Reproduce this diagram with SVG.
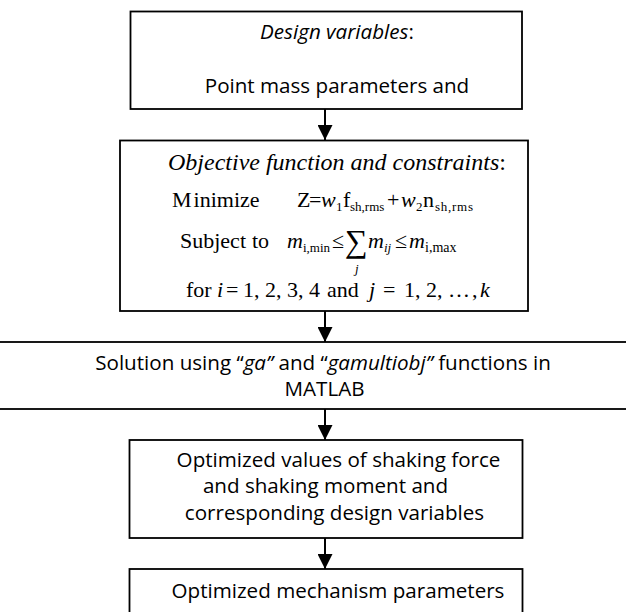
<svg xmlns="http://www.w3.org/2000/svg" width="626" height="612" viewBox="0 0 626 612">
<style>
.box{fill:#fff;stroke:#000;stroke-width:1.8}
.sans{font-family:"Open Sans","Noto Sans","Liberation Sans",sans-serif;font-size:20.6px;fill:#000}
.serif{font-family:"Liberation Serif","Times New Roman",serif;font-size:22px;fill:#000}
.it{font-style:italic}
.sub{font-size:13px}
.conn{stroke:#000;stroke-width:2;fill:none}
</style>
<defs>
<marker id="ah" markerUnits="userSpaceOnUse" markerWidth="15" markerHeight="15" refX="15" refY="7.5" orient="auto">
<path d="M0,0 L15,7.5 L0,15 Z" fill="#000"/>
</marker>
</defs>
<rect x="0" y="0" width="626" height="612" fill="#fff"/>

<g id="node-design-variables">
<rect class="box" x="130.5" y="11.5" width="391.5" height="97.5"/>
<text class="sans" x="337" y="39" text-anchor="middle"><tspan class="it">Design variables</tspan>:</text>
<text class="sans" x="337" y="93" text-anchor="middle">Point mass parameters and</text>
</g>

<g id="node-objective">
<rect class="box" x="120" y="140.5" width="408" height="170.5"/>
<text class="serif" x="168" y="170" style="font-size:24px"><tspan class="it">Objective function and constraints</tspan>:</text>
<text class="serif" y="207"><tspan x="172">M</tspan><tspan dx="2">inimize</tspan><tspan x="297">Z</tspan><tspan x="309">=</tspan><tspan x="321" class="it">w</tspan><tspan x="336" y="211" class="sub">1</tspan><tspan x="343" y="207">f</tspan><tspan x="350" y="211" class="sub">sh,rms</tspan><tspan x="387" y="207">+</tspan><tspan x="401" class="it">w</tspan><tspan x="416" y="211" class="sub">2</tspan><tspan x="423" y="207">n</tspan><tspan x="435" y="211" class="sub" textLength="38" lengthAdjust="spacing">sh,rms</tspan></text>
<text class="serif" y="248"><tspan x="180">Subject</tspan><tspan x="252">to</tspan><tspan x="287" class="it">m</tspan><tspan x="303" y="252" class="sub">i,min</tspan><tspan x="332" y="248">≤</tspan><tspan x="345" y="252" style="font-size:32px">∑</tspan><tspan x="368" y="248" class="it">m</tspan><tspan x="384" y="252" class="sub it">ij</tspan><tspan x="395" y="248">≤</tspan><tspan x="409" class="it">m</tspan><tspan x="425" y="252" class="sub" style="font-size:14px">i,max</tspan></text>
<text class="serif sub it" x="355" y="273">j</text>
<text class="serif" y="297"><tspan x="186">for</tspan><tspan x="217" class="it">i</tspan><tspan x="226">=</tspan><tspan x="243">1, 2, 3, 4</tspan><tspan x="327">and</tspan><tspan x="369" class="it">j</tspan><tspan x="383">=</tspan><tspan x="404">1, 2,</tspan><tspan x="448">…</tspan><tspan x="472">,</tspan><tspan x="480" class="it">k</tspan></text>
</g>

<g id="node-solution">
<rect class="box" x="-5" y="342" width="636" height="67"/>
<text class="sans" x="323" y="370" text-anchor="middle">Solution using “<tspan class="it">ga”</tspan> and “<tspan class="it">gamultiobj”</tspan> functions in</text>
<text class="sans" x="324.5" y="396" text-anchor="middle">MATLAB</text>
</g>

<g id="node-optimized-values">
<rect class="box" x="129.5" y="440" width="393" height="98"/>
<text class="sans" x="338.5" y="467" text-anchor="middle">Optimized values of shaking force</text>
<text class="sans" x="325.5" y="493" text-anchor="middle">and shaking moment and</text>
<text class="sans" x="334.5" y="520" text-anchor="middle">corresponding design variables</text>
</g>

<g id="node-mechanism">
<rect class="box" x="129.5" y="569" width="393" height="60"/>
<text class="sans" x="338" y="598" text-anchor="middle">Optimized mechanism parameters</text>
</g>

<g id="connectors">
<line class="conn" x1="325" y1="109" x2="325" y2="140" marker-end="url(#ah)"/>
<line class="conn" x1="325" y1="311" x2="325" y2="342" marker-end="url(#ah)"/>
<line class="conn" x1="325" y1="409" x2="325" y2="440" marker-end="url(#ah)"/>
<line class="conn" x1="325" y1="538" x2="325" y2="569" marker-end="url(#ah)"/>
</g>
</svg>
